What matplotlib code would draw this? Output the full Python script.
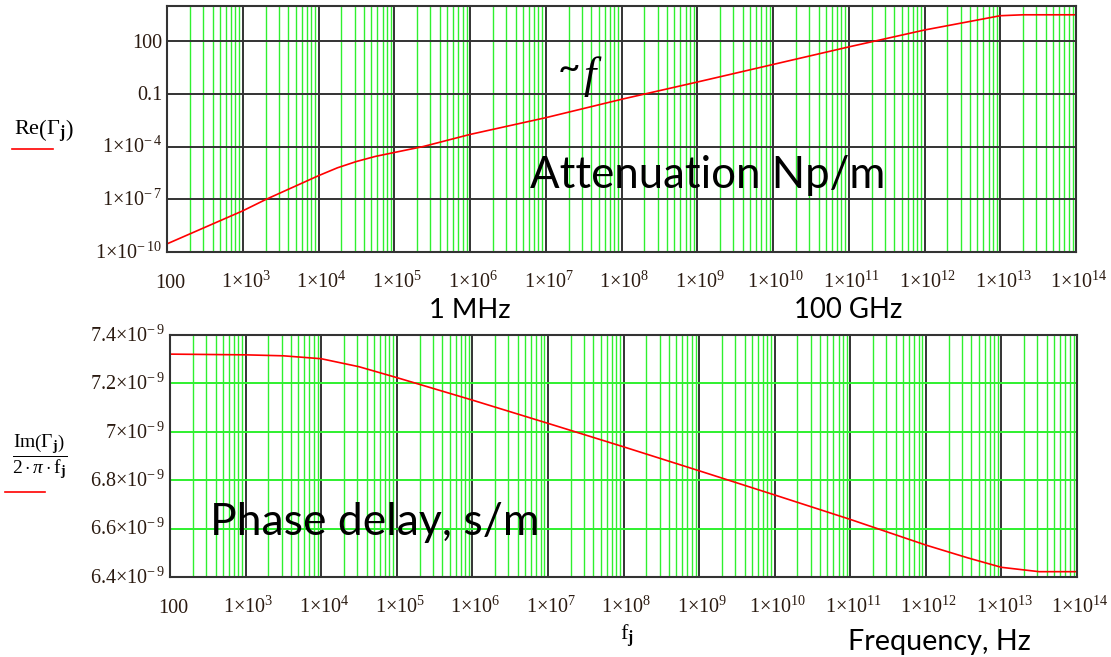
import numpy as np
import matplotlib
matplotlib.use("Agg")
import matplotlib.pyplot as plt
from matplotlib.ticker import FixedLocator, LogLocator, NullLocator, NullFormatter
from matplotlib.lines import Line2D
from matplotlib.transforms import blended_transform_factory, offset_copy

# attenuation Re(Gamma) vs frequency
freq_att = [1e2, 1e3, 2.04e3, 1e4, 1.78e4, 3.16e4, 5.62e4, 1e5, 2.4e5, 1e6,
            1e7, 1e8, 1e9, 1e10, 1e11, 1e12, 1e13, 2e13, 1e14]
atten = [2.9e-10, 2.2e-8, 1e-7, 2.2e-6, 6.2e-6, 1.41e-5, 2.75e-5, 4.6e-5,
         1e-4, 4.9e-4, 4.4e-3, 0.049, 0.47, 4.7, 47, 430, 2800, 3160, 3160]

# phase delay Im(Gamma)/(2 pi f), s/m
freq_ph = [1e2, 1e3, 3.16e3, 1e4, 3.16e4, 1e5, 1e6, 1e7, 1e8, 1e9, 1e10,
           1e11, 1e12, 3.6e12, 1e13, 3.16e13, 1e14]
delay = [7.321e-9, 7.318e-9, 7.314e-9, 7.302e-9, 7.269e-9, 7.224e-9,
         7.131e-9, 7.035e-9, 6.938e-9, 6.839e-9, 6.739e-9, 6.638e-9,
         6.532e-9, 6.479e-9, 6.44e-9, 6.422e-9, 6.422e-9]

x_ticks = [10.0**k for k in range(2, 15)]
x_labels = ["100"] + [r"1$\times$10$^{%d}$" % k for k in range(3, 15)]
att_ticks = [1e-10, 1e-7, 1e-4, 0.1, 100]
att_labels = [r"1$\times$10$^{-\,10}$", r"1$\times$10$^{-\,7}$",
              r"1$\times$10$^{-\,4}$", "0.1", "100"]
ph_ticks = [6.4e-9, 6.6e-9, 6.8e-9, 7.0e-9, 7.2e-9, 7.4e-9]
ph_labels = [r"%s$\times$10$^{-\,9}$" % s for s in ["6.4", "6.6", "6.8", "7", "7.2", "7.4"]]

plt.rcParams['mathtext.fontset'] = 'custom'
plt.rcParams['mathtext.rm'] = 'Liberation Serif'
plt.rcParams['mathtext.it'] = 'Liberation Serif:italic'
plt.rcParams['mathtext.bf'] = 'Liberation Serif:bold'

W, H = 1111, 657
fig = plt.figure(figsize=(W / 100, H / 100), dpi=100)

def fx(px):
    return px / W

def fy(py):
    return 1 - py / H

GREEN = '#2ff02f'
DARK = '#333333'
TICKC = '#2a1a10'
TSIZE = 14.5

def setup(ax, ticks_y, labels_y, xpad):
    ax.set_xscale('log')
    ax.set_xlim(1e2, 1e14)
    ax.xaxis.set_major_locator(FixedLocator(x_ticks))
    ax.xaxis.set_minor_locator(LogLocator(base=10, subs=np.arange(2, 10), numticks=100))
    ax.xaxis.set_major_formatter(NullFormatter())
    ax.xaxis.set_minor_formatter(NullFormatter())
    ax.yaxis.set_major_locator(FixedLocator(ticks_y))
    ax.yaxis.set_minor_locator(NullLocator())
    ax.yaxis.set_major_formatter(NullFormatter())
    ax.tick_params(which='both', length=0)
    for s in ax.spines.values():
        s.set_color(DARK)
        s.set_linewidth(1.5)
    ax.grid(which='minor', axis='x', color=GREEN, lw=1.0)
    ax.grid(which='major', axis='x', color=DARK, lw=1.4)
    # tick labels drawn by hand so baselines line up like the original
    tx = offset_copy(blended_transform_factory(ax.transData, ax.transAxes),
                     fig=fig, x=3, y=-xpad, units='dots')
    for t, lab in zip(x_ticks, x_labels):
        ax.text(t, 0, lab, transform=tx, ha='center', va='baseline',
                fontsize=TSIZE, family='Liberation Serif', color=TICKC)
    ty = offset_copy(blended_transform_factory(ax.transAxes, ax.transData),
                     fig=fig, x=-5, y=-6.5, units='dots')
    for t, lab in zip(ticks_y, labels_y):
        ax.text(0, t, lab, transform=ty, ha='right', va='baseline',
                fontsize=TSIZE, family='Liberation Serif', color=TICKC)

# top: attenuation
ax1 = fig.add_axes([fx(167), fy(252), fx(1076) - fx(167), fy(6) - fy(252)])
ax1.plot(freq_att, atten, color='red', lw=1.2)
ax1.set_yscale('log')
ax1.set_ylim(1e-10, 1e4)
setup(ax1, att_ticks, att_labels, 36)
ax1.grid(which='major', axis='y', color=DARK, lw=1.4)

# bottom: phase delay
ax2 = fig.add_axes([fx(170), fy(577), fx(1077) - fx(170), fy(335) - fy(577)])
ax2.plot(freq_ph, delay, color='red', lw=1.2)
ax2.set_ylim(6.4e-9, 7.4e-9)
setup(ax2, ph_ticks, ph_labels, 36)
ax2.grid(which='major', axis='y', color=GREEN, lw=1.4)

# annotations
sans = 'Lato'
fig.text(fx(530), fy(188), "Attenuation Np/m", fontsize=31.5, family=sans, va='baseline')
fig.text(fx(558), fy(80), "~", fontsize=28, family=sans, va='baseline')
fig.text(fx(583), fy(88), "f", fontsize=32, family='Liberation Serif', style='italic', va='baseline')
fig.text(fx(470), fy(318), "1 MHz", fontsize=19.7, family=sans, va='baseline', ha='center')
fig.text(fx(848), fy(318), "100 GHz", fontsize=19.8, family=sans, va='baseline', ha='center')
fig.text(fx(210), fy(535), "Phase delay, s/m", fontsize=32, family=sans, va='baseline')
fig.text(fx(848), fy(650), "Frequency, Hz", fontsize=20.7, family=sans, va='baseline')
fig.text(fx(627), fy(636), r"$\mathrm{f}_{\mathbf{j}}$", fontsize=16, ha='center', va='center')

# y labels with legend lines
fig.text(fx(44), fy(131), r"$\mathrm{Re}\left(\Gamma_{\mathbf{j}}\right)$", fontsize=16,
         ha='center', va='center')
fig.add_artist(Line2D([fx(12), fx(53)], [fy(149), fy(149)], color='red', lw=1.2))
fig.text(fx(40), fy(457),
         r"$\dfrac{\mathrm{Im}\left(\Gamma_{\mathbf{j}}\right)}{2\cdot\pi\cdot \mathrm{f}_{\mathbf{j}}}$",
         fontsize=14, ha='center', va='center')
fig.add_artist(Line2D([fx(5), fx(45)], [fy(492), fy(492)], color='red', lw=1.2))

fig.savefig("out.png", dpi=100)
